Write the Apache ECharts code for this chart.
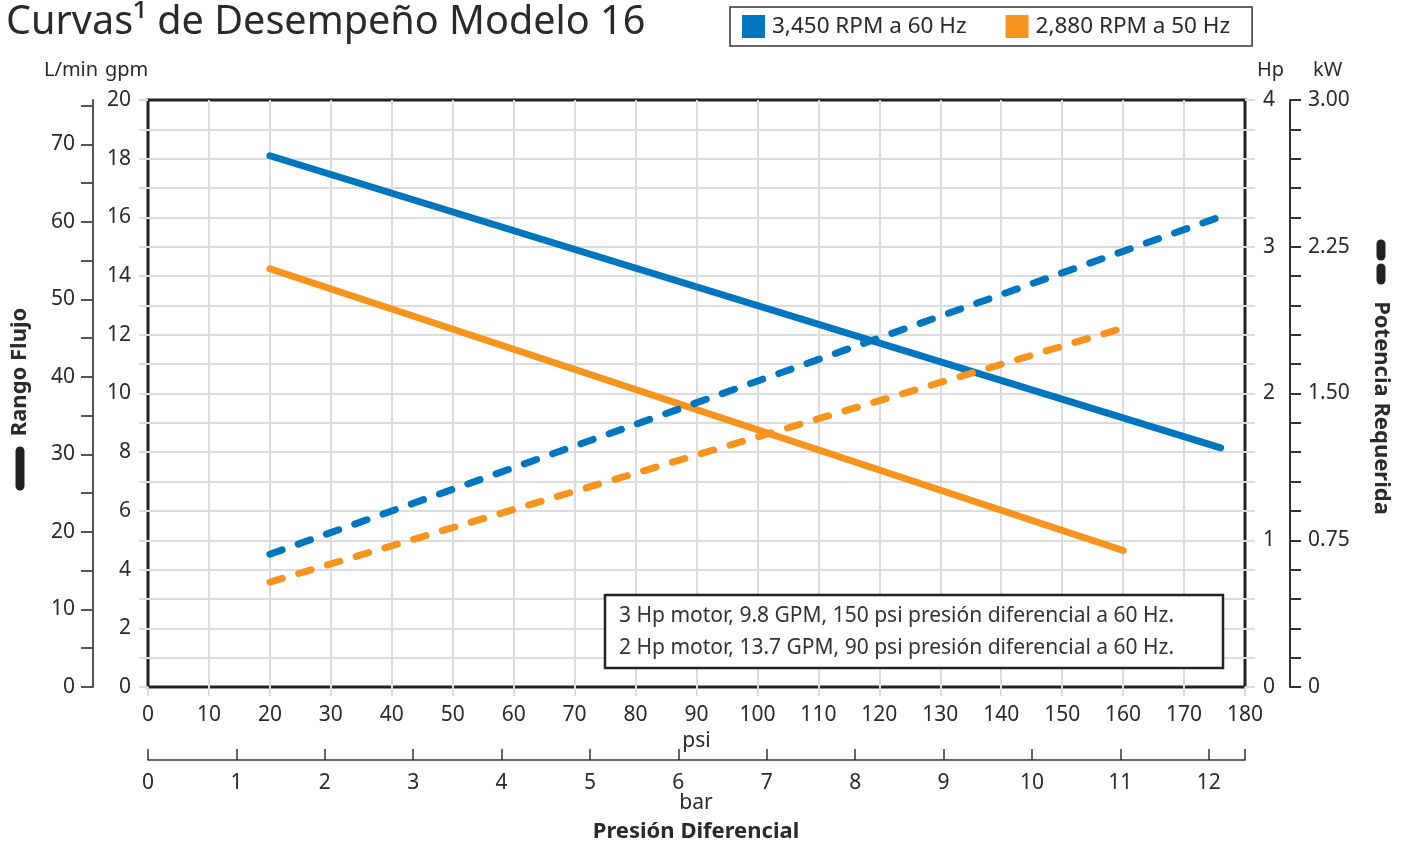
<!DOCTYPE html>
<html>
<head>
<meta charset="utf-8">
<script src="https://cdn.jsdelivr.net/npm/echarts@6/dist/echarts.min.js"></script>
<style>
html,body{margin:0;padding:0;background:#fff;}
#chart{width:1407px;height:846px;}
</style>
</head>
<body>
<div id="chart"></div>
<script>
// ---- data ----
const seriesNames = ['3,450 RPM a 60 Hz', '2,880 RPM a 50 Hz'];
const flow60 = [[20, 18.1], [176, 8.15]];      // gpm vs psi
const flow50 = [[20, 14.25], [160, 4.65]];
const power60 = [[20, 0.905], [176, 3.205]];   // Hp vs psi
const power50 = [[20, 0.715], [160, 2.446]];
const lpmTicks = [0,5,10,15,20,25,30,35,40,45,50,55,60,65,70,75];
const lpmLabels = [0,10,20,30,40,50,60,70];
const kwTicks = [0,0.15,0.3,0.45,0.6,0.75,0.9,1.05,1.2,1.35,1.5,1.65,1.8,1.95,2.1,2.25,2.4,2.55,2.7,2.85,3];
const kwLabels = [0,0.75,1.5,2.25,3];
const noteLines = [
  '3 Hp motor, 9.8 GPM, 150 psi presión diferencial a 60 Hz.',
  '2 Hp motor, 13.7 GPM, 90 psi presión diferencial a 60 Hz.'
];

const BLUE = '#0076BF';
const ORANGE = '#F7941D';
const FONT = '"Noto Sans", "Open Sans", sans-serif';
const TXT = '#2a2a2a';
const GRID = '#dcdcdc';
const LBL = 21;

const chart = echarts.init(document.getElementById('chart'));
const dashType = [13, 17];

chart.setOption({
  animation: false,
  textStyle: {fontFamily: FONT},
  legend: {
    left: 730, top: 7,
    padding: [8, 22, 8, 12],
    borderColor: '#333', borderWidth: 1.5,
    itemWidth: 23, itemHeight: 23, itemGap: 39,
    icon: 'rect',
    textStyle: {fontSize: 22.5, color: TXT, fontFamily: FONT, padding: [0, 0, 0, 2]},
    data: [
      {name: seriesNames[0], itemStyle: {color: BLUE}},
      {name: seriesNames[1], itemStyle: {color: ORANGE}}
    ]
  },
  grid: {
    left: 148, right: 162, top: 100, bottom: 159,
    show: true, borderColor: '#222', borderWidth: 3, backgroundColor: 'transparent'
  },
  xAxis: [
    {
      type: 'value', min: 0, max: 180, interval: 10, position: 'bottom',
      axisLine: {show: false, onZero: false},
      axisTick: {show: true, length: 9, lineStyle: {color: GRID, width: 2}},
      axisLabel: {fontSize: LBL, color: TXT, margin: 18, fontFamily: FONT},
      splitLine: {show: true, showMinLine: false, showMaxLine: false, lineStyle: {color: GRID, width: 2}},
      name: 'psi', nameLocation: 'middle', nameGap: 43,
      nameTextStyle: {fontSize: LBL, color: TXT, fontFamily: FONT}
    },
    {
      type: 'value', min: 0, max: 180 / 14.5038, interval: 1, position: 'bottom', offset: 73,
      axisLine: {show: true, onZero: false, lineStyle: {color: '#333', width: 1.5}},
      axisTick: {show: true, inside: true, length: 11, lineStyle: {color: '#333', width: 1.5}},
      axisLabel: {fontSize: LBL, color: TXT, margin: 13, fontFamily: FONT,
        formatter: v => Math.abs(v - Math.round(v)) < 1e-6 ? String(Math.round(v)) : ''},
      splitLine: {show: false}
    }
  ],
  yAxis: [
    {
      type: 'value', min: 0, max: 20, interval: 1, position: 'left',
      axisLine: {show: false, onZero: false},
      axisTick: {show: true, length: 9, lineStyle: {color: GRID, width: 2}},
      axisLabel: {fontSize: LBL, color: TXT, margin: 17, fontFamily: FONT,
        formatter: v => (Math.round(v) % 2 === 0) ? String(Math.round(v)) : ''},
      splitLine: {show: true, showMinLine: false, showMaxLine: false, lineStyle: {color: GRID, width: 2}}
    },
    {
      type: 'value', min: 0, max: 20 * 3.78541, position: 'left', offset: 55,
      axisLine: {show: true, onZero: false, lineStyle: {color: '#555', width: 2}},
      axisTick: {show: true, length: 12, customValues: lpmTicks, lineStyle: {color: '#555', width: 2}},
      axisLabel: {fontSize: LBL, color: TXT, margin: 18, fontFamily: FONT, customValues: lpmLabels},
      splitLine: {show: false}
    },
    {
      type: 'value', min: 0, max: 4, interval: 0.2, position: 'right',
      axisLine: {show: false, onZero: false},
      axisTick: {show: true, length: 10, lineStyle: {color: GRID, width: 2}},
      axisLabel: {fontSize: LBL, color: TXT, margin: 18, fontFamily: FONT,
        formatter: v => Math.abs(v - Math.round(v)) < 1e-6 ? String(Math.round(v)) : ''},
      splitLine: {show: false}
    },
    {
      type: 'value', min: 0, max: 3, position: 'right', offset: 45,
      axisLine: {show: true, onZero: false, lineStyle: {color: '#333', width: 2}},
      axisTick: {show: true, length: 11, customValues: kwTicks, lineStyle: {color: '#333', width: 2}},
      axisLabel: {fontSize: LBL, color: TXT, margin: 18, fontFamily: FONT, customValues: kwLabels,
        formatter: v => v === 0 ? '0' : v.toFixed(2)},
      splitLine: {show: false}
    }
  ],
  series: [
    {name: seriesNames[0], type: 'line', xAxisIndex: 0, yAxisIndex: 0, data: flow60,
     showSymbol: false, symbol: 'none', color: BLUE,
     lineStyle: {color: BLUE, width: 7, cap: 'round'}, z: 3},
    {name: seriesNames[1], type: 'line', xAxisIndex: 0, yAxisIndex: 0, data: flow50,
     showSymbol: false, symbol: 'none', color: ORANGE,
     lineStyle: {color: ORANGE, width: 7, cap: 'round'}, z: 3},
    {name: seriesNames[0], type: 'line', xAxisIndex: 0, yAxisIndex: 2, data: power60,
     showSymbol: false, symbol: 'none', color: BLUE,
     lineStyle: {color: BLUE, width: 7, cap: 'round', type: dashType}, z: 3},
    {name: seriesNames[1], type: 'line', xAxisIndex: 0, yAxisIndex: 2, data: power50,
     showSymbol: false, symbol: 'none', color: ORANGE,
     lineStyle: {color: ORANGE, width: 7, cap: 'round', type: dashType}, z: 3}
  ],
  graphic: [
    {type: 'text', left: 6, top: 3, z: 10,
     style: {text: 'Curvas¹ de Desempeño Modelo 16', font: '39.6px ' + FONT, fill: TXT}},
    {type: 'text', left: 44, top: 60, style: {text: 'L/min', font: '20px ' + FONT, fill: TXT}},
    {type: 'text', left: 105, top: 60, style: {text: 'gpm', font: '20px ' + FONT, fill: TXT}},
    {type: 'text', left: 1257, top: 60, style: {text: 'Hp', font: '20px ' + FONT, fill: TXT}},
    {type: 'text', left: 1313, top: 60, style: {text: 'kW', font: '20px ' + FONT, fill: TXT}},
    // left axis title
    {type: 'text', x: 20, y: 372, rotation: Math.PI / 2,
     style: {text: 'Rango Flujo', font: 'bold 22px ' + FONT, fill: TXT, align: 'center', verticalAlign: 'middle'}},
    {type: 'line', shape: {x1: 20, y1: 451, x2: 20, y2: 486},
     style: {stroke: '#222', lineWidth: 9, lineCap: 'round'}},
    // right axis title
    {type: 'text', x: 1381, y: 408, rotation: -Math.PI / 2,
     style: {text: 'Potencia Requerida', font: 'bold 22px ' + FONT, fill: TXT, align: 'center', verticalAlign: 'middle'}},
    {type: 'line', shape: {x1: 1381, y1: 244, x2: 1381, y2: 256},
     style: {stroke: '#222', lineWidth: 9, lineCap: 'round'}},
    {type: 'line', shape: {x1: 1381, y1: 268, x2: 1381, y2: 280},
     style: {stroke: '#222', lineWidth: 9, lineCap: 'round'}},
    // bar unit and x title
    {type: 'text', x: 696, y: 803,
     style: {text: 'bar', font: LBL + 'px ' + FONT, fill: TXT, align: 'center', verticalAlign: 'middle'}},
    {type: 'text', x: 696, y: 832,
     style: {text: 'Presión Diferencial', font: 'bold 22px ' + FONT, fill: TXT, align: 'center', verticalAlign: 'middle'}},
    // note box
    {type: 'rect', shape: {x: 605, y: 595, width: 618, height: 73}, z: 20,
     style: {fill: '#fff', stroke: '#222', lineWidth: 2.5}},
    {type: 'text', x: 619, y: 616, z: 21,
     style: {text: noteLines[0], font: '21px ' + FONT, fill: '#333', verticalAlign: 'middle'}},
    {type: 'text', x: 619, y: 648, z: 21,
     style: {text: noteLines[1], font: '21px ' + FONT, fill: '#333', verticalAlign: 'middle'}}
  ]
});
</script>
</body>
</html>
